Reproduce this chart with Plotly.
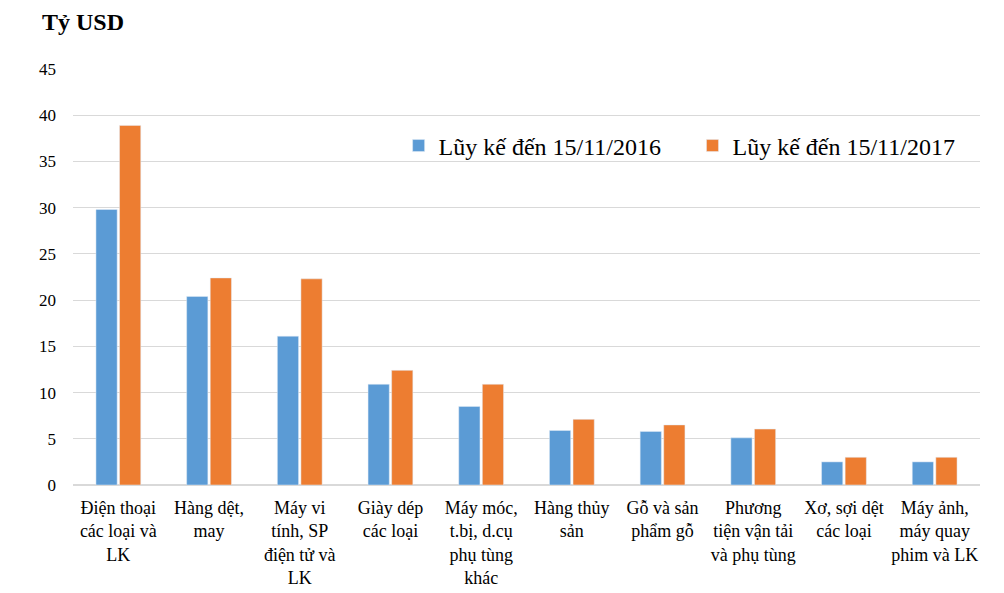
import plotly.graph_objects as go

categories = [
    "Điện thoại<br>các loại và<br>LK",
    "Hàng dệt,<br>may",
    "Máy vi<br>tính, SP<br>điện tử và<br>LK",
    "Giày dép<br>các loại",
    "Máy móc,<br>t.bị, d.cụ<br>phụ tùng<br>khác",
    "Hàng thủy<br>sản",
    "Gỗ và sản<br>phẩm gỗ",
    "Phương<br>tiện vận tải<br>và phụ tùng",
    "Xơ, sợi dệt<br>các loại",
    "Máy ảnh,<br>máy quay<br>phim và LK",
]
values_2016 = [29.8, 20.4, 16.1, 10.9, 8.5, 5.9, 5.8, 5.1, 2.5, 2.5]
values_2017 = [38.9, 22.4, 22.3, 12.4, 10.9, 7.1, 6.5, 6.05, 3.0, 3.0]
name_2016 = "Lũy kế đến 15/11/2016"
name_2017 = "Lũy kế đến 15/11/2017"
y_ticks = [0, 5, 10, 15, 20, 25, 30, 35, 40, 45]

FONT = "Liberation Serif, Times New Roman, serif"

fig = go.Figure()
fig.add_trace(go.Bar(x=categories, y=values_2016, name=name_2016, marker_color="#5B9BD5",
                     legend="legend", showlegend=True))
fig.add_trace(go.Bar(x=categories, y=values_2017, name=name_2017, marker_color="#ED7D31",
                     legend="legend2", showlegend=True))

legend_style = dict(orientation="h", y=0.815, xanchor="left", yanchor="middle", visible=True,
                    font=dict(size=24, family=FONT), itemwidth=30, bgcolor="rgba(0,0,0,0)")

# page has an 8px body margin, so the figure is sized 996x585
fig.update_layout(
    width=996, height=585,
    margin=dict(l=65, r=24, t=61, b=108),
    paper_bgcolor="white", plot_bgcolor="white",
    font=dict(family=FONT, color="black", size=18),
    showlegend=True,
    barmode="group", bargap=0.48, bargroupgap=0.1,
    legend=dict(x=0.359, **legend_style),
    legend2=dict(x=0.683, **legend_style),
    xaxis=dict(tickfont=dict(size=18, family=FONT), showline=False, ticks="", automargin=False,
               tickangle=0, ticklabelstandoff=10),
    yaxis=dict(range=[0, 45], tickvals=y_ticks, showgrid=True, gridcolor="#d9d9d9", gridwidth=1,
               zeroline=True, zerolinecolor="#d9d9d9", zerolinewidth=1.5, automargin=False,
               tickfont=dict(size=17, family=FONT), ticks="", ticklen=0,
               ticklabelstandoff=16),
    annotations=[dict(text="<b>Tỷ USD</b>", xref="paper", yref="paper", x=-0.036, y=1.150,
                      xanchor="left", yanchor="top", showarrow=False,
                      font=dict(size=24, family=FONT, color="black"),
                      )],
)

fig.write_html("out.html")
